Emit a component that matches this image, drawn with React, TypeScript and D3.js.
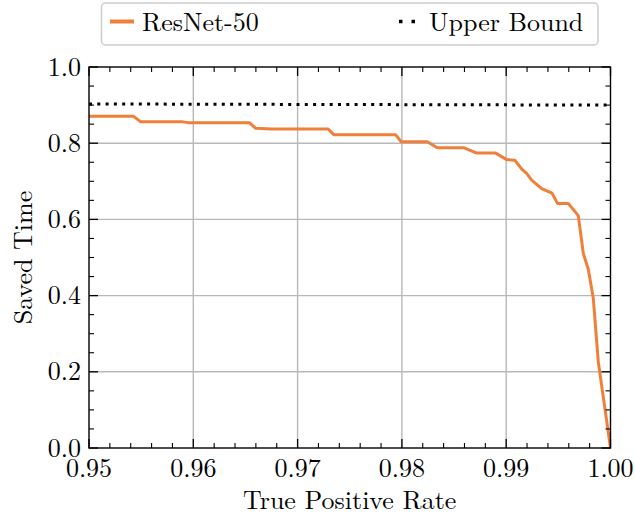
import React from "react";
import * as d3 from "d3";

const tpr = [0.95, 0.95425, 0.95496, 0.9590, 0.9595, 0.96537, 0.96598, 0.96752, 0.97294, 0.97349, 0.97941, 0.97991, 0.98244, 0.98339, 0.98598, 0.98717, 0.98899, 0.99005, 0.99084, 0.99149, 0.99196, 0.99244, 0.9934, 0.99439, 0.99492, 0.99595, 0.99691, 0.99739, 0.99787, 0.99835, 0.99883, 1.0];
const savedTime = [0.871, 0.871, 0.856, 0.856, 0.854, 0.854, 0.839, 0.837, 0.837, 0.822, 0.822, 0.804, 0.804, 0.788, 0.788, 0.774, 0.774, 0.757, 0.755, 0.732, 0.721, 0.703, 0.681, 0.669, 0.642, 0.642, 0.610, 0.511, 0.469, 0.393, 0.226, 0.0];
const boundTpr = [0.95, 1.0];
const boundSaved = [0.903, 0.9];
const xTicks = [0.95, 0.96, 0.97, 0.98, 0.99, 1.0];
const yTicks = [0.0, 0.2, 0.4, 0.6, 0.8, 1.0];
const seriesNames = ["ResNet-50", "Upper Bound"];
const xLabel = "True Positive Rate";
const yLabel = "Saved Time";

const FONT = "'Latin Modern Roman', 'Liberation Serif', serif";
const ORANGE = "#f07f3a";
const FS = 26;

export default function App() {
  const W = 635, H = 516;
  const L = 89, R = 610.5, T = 67, B = 448;
  const x = d3.scaleLinear().domain([0.95, 1.0]).range([L, R]);
  const y = d3.scaleLinear().domain([0, 1]).range([B, T]);

  const xMinor = d3.range(0, 26).map((i) => 0.95 + i * 0.002).filter((_, i) => i % 5 !== 0);
  const yMinor = d3.range(0, 21).map((i) => i * 0.05).filter((_, i) => i % 4 !== 0);

  const line = d3.line<number>().x((_, i) => x(tpr[i])).y((d) => y(d));
  const bound = d3.line<number>().x((_, i) => x(boundTpr[i])).y((d) => y(d));

  const MAJ = 9, MIN = 5;
  const ts = { fontFamily: FONT, fontSize: FS };

  return (
    <div style={{ position: "absolute", left: 0, top: 0 }}>
      <svg width={W} height={H} style={{ display: "block", background: "#fff" }}>
        <defs>
          <clipPath id="plotclip">
            <rect x={L} y={T} width={R - L} height={B - T} />
          </clipPath>
        </defs>
        {xTicks.slice(1, -1).map((t) => (
          <line key={"gx" + t} x1={x(t)} x2={x(t)} y1={T} y2={B} stroke="#b8b8b8" strokeWidth={1.4} />
        ))}
        {yTicks.slice(1, -1).map((t) => (
          <line key={"gy" + t} y1={y(t)} y2={y(t)} x1={L} x2={R} stroke="#b8b8b8" strokeWidth={1.4} />
        ))}
        <g clipPath="url(#plotclip)">
          <path d={bound(boundSaved) || ""} fill="none" stroke="#000" strokeWidth={3} strokeDasharray="3,5.3" />
          <path d={line(savedTime) || ""} fill="none" stroke={ORANGE} strokeWidth={3} strokeLinejoin="round" />
        </g>
        {xTicks.map((t) => (
          <g key={"xt" + t}>
            <line x1={x(t)} x2={x(t)} y1={B} y2={B - MAJ} stroke="#000" strokeWidth={1.3} />
            <line x1={x(t)} x2={x(t)} y1={T} y2={T + MAJ} stroke="#000" strokeWidth={1.3} />
          </g>
        ))}
        {xMinor.map((t) => (
          <g key={"xm" + t}>
            <line x1={x(t)} x2={x(t)} y1={B} y2={B - MIN} stroke="#000" strokeWidth={1.1} />
            <line x1={x(t)} x2={x(t)} y1={T} y2={T + MIN} stroke="#000" strokeWidth={1.1} />
          </g>
        ))}
        {yTicks.map((t) => (
          <g key={"yt" + t}>
            <line y1={y(t)} y2={y(t)} x1={L} x2={L + MAJ} stroke="#000" strokeWidth={1.3} />
            <line y1={y(t)} y2={y(t)} x1={R} x2={R - MAJ} stroke="#000" strokeWidth={1.3} />
          </g>
        ))}
        {yMinor.map((t) => (
          <g key={"ym" + t}>
            <line y1={y(t)} y2={y(t)} x1={L} x2={L + MIN} stroke="#000" strokeWidth={1.1} />
            <line y1={y(t)} y2={y(t)} x1={R} x2={R - MIN} stroke="#000" strokeWidth={1.1} />
          </g>
        ))}
        <rect x={L} y={T} width={R - L} height={B - T} fill="none" stroke="#000" strokeWidth={1.4} />
        {xTicks.map((t) => (
          <text key={"xl" + t} x={x(t)} y={B + 28.5} textAnchor="middle" style={ts} fill="#000">
            {t.toFixed(2)}
          </text>
        ))}
        {yTicks.map((t) => (
          <text key={"yl" + t} x={L - 8} y={y(t) + 8.5} textAnchor="end" style={ts} fill="#000">
            {t.toFixed(1)}
          </text>
        ))}
        <text x={(L + R) / 2} y={509} textAnchor="middle" style={ts} fill="#000">{xLabel}</text>
        <text transform={`translate(32, ${(T + B) / 2}) rotate(-90)`} textAnchor="middle" style={ts} fill="#000">{yLabel}</text>
        <rect x={101.5} y={3} width={496.5} height={42} rx={4} fill="#fff" stroke="#cccccc" strokeWidth={1.5} />
        <line x1={110} x2={134} y1={21.5} y2={21.5} stroke={ORANGE} strokeWidth={4} />
        <text x={142} y={30.5} style={ts} fill="#000">{seriesNames[0]}</text>
        <line x1={399} x2={417} y1={21.5} y2={21.5} stroke="#000" strokeWidth={3.5} strokeDasharray="3.5,9" />
        <text x={429} y={30.5} style={ts} fill="#000">{seriesNames[1]}</text>
      </svg>
    </div>
  );
}
